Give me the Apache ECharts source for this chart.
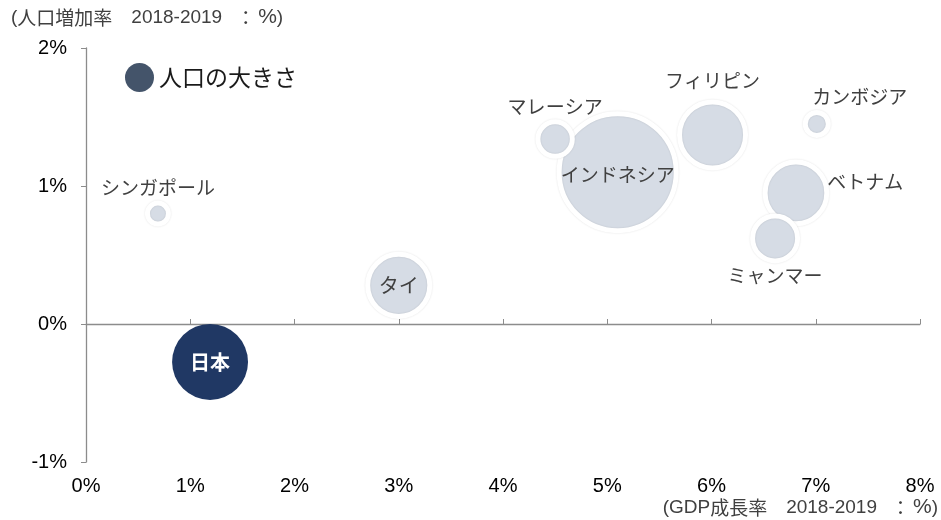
<!DOCTYPE html>
<html><head><meta charset="utf-8">
<script src="https://cdn.jsdelivr.net/npm/echarts@6/dist/echarts.min.js"></script>
<style>html,body{margin:0;padding:0;background:#fff}#c{width:941px;height:520px}</style>
</head><body><div id="c"></div>
<script>
// Data
const countries  = ['シンガポール','日本','タイ','インドネシア','マレーシア','フィリピン','カンボジア','ベトナム','ミャンマー'];
const gdpGrowth  = [0.69, 1.19, 3.00, 5.10, 4.50, 6.01, 7.01, 6.81, 6.61];   // x, %
const popGrowth  = [0.80, -0.275, 0.28, 1.10, 1.34, 1.37, 1.45, 0.95, 0.62]; // y, %
const popSize    = [5.5, 124, 70, 270, 18.6, 80, 7, 69, 34.4];               // bubble size value
const xTicks = [0,1,2,3,4,5,6,7,8];
const yTicks = [-1,0,1,2];

const FONT = "'Liberation Sans','Noto Sans CJK JP',sans-serif";
const JP = "'Noto Sans CJK JP','Liberation Sans',sans-serif";
const LIGHT = '#D6DCE5', DARK = '#203864', TXT = '#404040';

const labelStyle = {
  'シンガポール': {position:'top', distance:3},
  '日本': {position:'inside', color:'#fff', fontWeight:'bold', fontSize:20},
  'タイ': {position:'inside', fontSize:20},
  'インドネシア': {position:'inside', offset:[0,3]},
  'マレーシア': {position:'top', distance:3},
  'フィリピン': {position:'top', distance:9},
  'カンボジア': {position:'top', distance:4, offset:[43,0]},
  'ベトナム': {position:'right', distance:-2, offset:[0,-11]},
  'ミャンマー': {position:'bottom', distance:3}
};

const K = 3.41; // px radius per sqrt(size)
const BW = 5;
const data = countries.map((n,i)=>{
  const isJp = n==='日本';
  return {
    name:n,
    value:[gdpGrowth[i], popGrowth[i], popSize[i]],
    symbolSize: 2*K*Math.sqrt(popSize[i]) + (isJp?0:BW),
    itemStyle: isJp ? {color:DARK, borderWidth:0, shadowBlur:0} : {color:LIGHT},
    label:Object.assign({show:true, formatter:n, fontFamily:JP, fontSize:19, color:TXT}, labelStyle[n])
  };
});

const titleRich = {
  j:{fontFamily:JP, fontSize:19, fill:TXT, color:TXT},
  n:{fontFamily:"'Liberation Sans',sans-serif", fontSize:19, fill:TXT, color:TXT},
  c:{fontFamily:JP, fontSize:19, fill:TXT, color:TXT, padding:[0,3,0,14]},
  p:{fontFamily:"'Liberation Sans',sans-serif", fontSize:21, fill:TXT, color:TXT}
};

const chart = echarts.init(document.getElementById('c'), null, {renderer:'canvas'});
chart.setOption({
  animation:false,
  textStyle:{fontFamily:FONT},
  grid:{left:86, right:21, top:48, bottom:58, containLabel:false},
  legend:{
    left:120, top:58, icon:'circle', itemWidth:29, itemHeight:29, itemGap:7,
    itemStyle:{borderWidth:0, shadowBlur:0, color:'#44546A', opacity:1},
    textStyle:{fontFamily:JP, fontSize:23, color:'#1a1a1a'},
    data:['人口の大きさ']
  },
  xAxis:[
    {type:'value', min:xTicks[0], max:xTicks[xTicks.length-1], interval:1, position:'bottom',
     axisLine:{show:false, onZero:false}, axisTick:{show:false}, splitLine:{show:false},
     axisLabel:{formatter:'{value}%', fontSize:20, color:'#000', margin:14}},
    {type:'value', min:xTicks[0], max:xTicks[xTicks.length-1], interval:1, position:'bottom',
     axisLine:{show:true, onZero:true, onZeroAxisIndex:0, lineStyle:{color:'#8c8c8c', width:1.3}},
     axisTick:{show:true, inside:true, length:5, lineStyle:{color:'#8c8c8c'}},
     axisLabel:{show:false}, splitLine:{show:false}}
  ],
  yAxis:{type:'value', min:yTicks[0], max:yTicks[yTicks.length-1], interval:1,
    axisLine:{show:true, onZero:false, lineStyle:{color:'#8c8c8c', width:1.3}},
    axisTick:{show:true, length:5, lineStyle:{color:'#8c8c8c'}},
    splitLine:{show:false},
    axisLabel:{formatter:'{value}%', fontSize:20, color:'#000', margin:19}},
  graphic:[
    {type:'text', left:11, top:7, style:{text:'{n|(}{j|人口増加率　}{n|2018-2019}{c|：}{p|%}{n|)}', rich:titleRich}},
    {type:'text', right:3, top:497, style:{text:'{n|(GDP}{j|成長率　}{n|2018-2019}{c|：}{p|%}{n|)}', rich:titleRich}}
  ],
  series:[{
    name:'人口の大きさ', type:'scatter', xAxisIndex:0, yAxisIndex:0,
    itemStyle:{color:'#44546A', opacity:1, borderColor:'#fff', borderWidth:BW, shadowBlur:2, shadowColor:'rgba(0,0,0,0.12)'},
    emphasis:{disabled:true},
    data:data
  }]
});
</script></body></html>
